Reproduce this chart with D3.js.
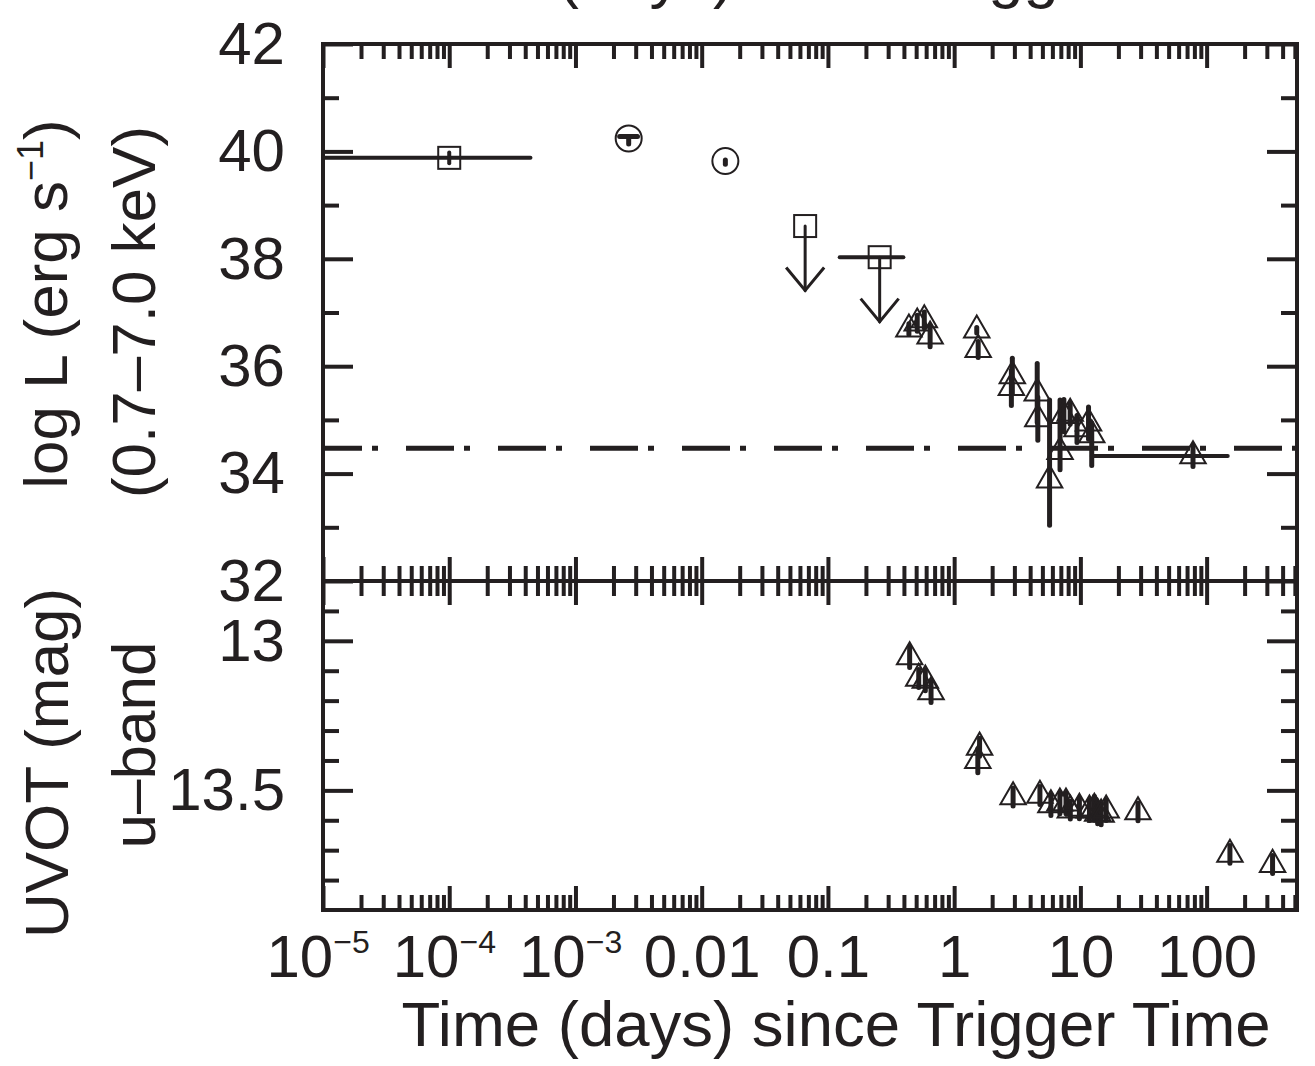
<!DOCTYPE html>
<html>
<head>
<meta charset="utf-8">
<script src="https://cdn.jsdelivr.net/npm/d3@7"></script>
<style>
body { margin: 0; background: #fff; }
text { font-family: "Liberation Sans", Arial, Helvetica, sans-serif; fill: #231f20; }
</style>
</head>
<body>
<script>
const width = 1315, height = 1066;
const plotL = 323, plotR = 1297, plotT = 44, plotM = 581, plotB = 910;
const ink = "#231f20";

// X-ray: binned square detection
const sqTime = [1.0e-4];
const sqLum = [39.88];
const sqLumErr = [0.1];
const sqTimeLo = [1e-5];
const sqTimeHi = [4.4e-4];

// X-ray: circles
const circTime = [0.00264, 0.0154];
const circLum = [40.24, 39.82];
const circLumErr = [0.1, 0.06];
const circTimeLo = [0.00224, 0.0154];
const circTimeHi = [0.0031, 0.0154];

// X-ray: square upper limits
const ulTime = [0.066, 0.257];
const ulLum = [38.61, 38.03];
const ulTimeLo = [0.066, 0.124];
const ulTimeHi = [0.066, 0.396];
const ulDrop = 1.2;

// X-ray: triangles
const triTime = [0.438, 0.51, 0.58, 0.645, 1.51, 1.55, 2.89, 2.84, 4.55, 4.6, 5.7, 6.9, 7.4, 8.3, 9.4, 11.6, 12.3];
const triLum = [36.69, 36.80, 36.86, 36.56, 36.67, 36.31, 35.82, 35.60, 35.50, 35.02, 33.88, 34.41, 35.08, 35.12, 34.83, 34.94, 34.72];
const triLumLo = [36.59, 36.65, 36.71, 36.36, 36.62, 36.16, 35.49, 35.27, 34.95, 34.62, 33.04, 34.07, 34.78, 34.92, 34.58, 34.64, 34.15];
const triLumHi = [36.79, 36.95, 37.01, 36.76, 36.72, 36.46, 36.15, 35.93, 36.05, 35.42, 35.37, 35.37, 35.38, 35.32, 35.08, 35.24, 34.94];

// X-ray: late binned triangle
const binTime = [78];
const binLum = [34.33];
const binLumErr = [0.2];
const binTimeLo = [12.3];
const binTimeHi = [147];

// quiescent level (dash-dot)
const quiescentLum = 34.47;

// UVOT u-band
const uvTime = [0.444, 0.524, 0.591, 0.656, 1.59, 1.54, 2.93, 4.78, 5.84, 6.88, 7.69, 8.32, 9.82, 11.8, 12.9, 13.7, 14.6, 16.0, 28.6, 153, 333];
const uvMag = [13.054, 13.126, 13.132, 13.171, 13.356, 13.401, 13.522, 13.517, 13.549, 13.543, 13.543, 13.566, 13.56, 13.566, 13.56, 13.577, 13.58, 13.566, 13.572, 13.714, 13.748];
const uvErr = [0.035, 0.03, 0.035, 0.035, 0.03, 0.04, 0.03, 0.03, 0.035, 0.035, 0.035, 0.03, 0.035, 0.035, 0.04, 0.035, 0.035, 0.035, 0.03, 0.03, 0.03];

// ticks
const xMajor = [1e-5, 1e-4, 1e-3, 0.01, 0.1, 1, 10, 100];
const xLabels = ["10|5", "10|4", "10|3", "0.01", "0.1", "1", "10", "100"];
const lumTicks = [32, 34, 36, 38, 40, 42];
const lumMinor = [33, 35, 37, 39, 41];
const magTicks = [13, 13.5];
const magMinor = [12.9, 13.1, 13.2, 13.3, 13.4, 13.6, 13.7, 13.8];

const xMinor = [];
xMajor.forEach(d => { for (let k = 2; k <= 9; k++) if (d * k <= 520) xMinor.push(d * k); });

const svg = d3.select("body").append("svg")
  .attr("width", width)
  .attr("height", height);

const x = d3.scaleLog().domain([1e-5, 520]).range([plotL, plotR]);
const yL = d3.scaleLinear().domain([32, 42]).range([plotM, plotT]);
const yM = d3.scaleLinear().domain([12.8, 13.9]).range([plotM, plotB]);

function styleAxis(g) {
  g.select(".domain").remove();
  g.selectAll(".tick line").attr("stroke", ink).attr("stroke-width", 4);
  g.selectAll("text").attr("font-size", 60).attr("fill", ink)
    .attr("font-family", "'Liberation Sans', Arial, sans-serif");
}

// x ticks on all horizontal lines
function xTicks(axisFn, y, size, values) {
  svg.append("g")
    .attr("transform", "translate(0," + y + ")")
    .call(axisFn(x).tickValues(values).tickSize(size).tickFormat(""))
    .call(styleAxis);
}
xTicks(d3.axisTop, plotT, -24, xMajor);
xTicks(d3.axisTop, plotT, -15, xMinor);
xTicks(d3.axisBottom, plotM, -24, xMajor);
xTicks(d3.axisBottom, plotM, -15, xMinor);
xTicks(d3.axisTop, plotM, -24, xMajor);
xTicks(d3.axisTop, plotM, -15, xMinor);

const xAxis = svg.append("g")
  .attr("transform", "translate(0," + plotB + ")")
  .call(d3.axisBottom(x).tickValues(xMajor).tickSize(-24).tickPadding(24)
    .tickFormat((d, i) => xLabels[i]))
  .call(styleAxis);
xTicks(d3.axisBottom, plotB, -15, xMinor);

xAxis.selectAll(".tick text").each(function(d, i) {
  const lab = xLabels[i];
  if (lab.indexOf("|") < 0) return;
  const t = d3.select(this);
  t.text(null).attr("text-anchor", "start").attr("x", -57);
  t.append("tspan").text("10");
  t.append("tspan").attr("font-size", 32).attr("dy", "-0.75em").text("\u2212" + lab.split("|")[1]);
});

// y ticks
function yAxis(axisFn, scale, xPos, major, minor, fmt) {
  svg.append("g")
    .attr("transform", "translate(" + xPos + ",0)")
    .call(axisFn(scale).tickValues(major).tickSize(-30).tickPadding(38).tickFormat(fmt))
    .call(styleAxis);
  svg.append("g")
    .attr("transform", "translate(" + xPos + ",0)")
    .call(axisFn(scale).tickValues(minor).tickSize(-16).tickFormat(""))
    .call(styleAxis);
}
yAxis(d3.axisLeft, yL, plotL, lumTicks, lumMinor, d3.format("d"));
yAxis(d3.axisRight, yL, plotR, lumTicks, lumMinor, () => "");
yAxis(d3.axisLeft, yM, plotL, magTicks, magMinor, d => d === 13 ? "13" : "13.5");
yAxis(d3.axisRight, yM, plotR, magTicks, magMinor, () => "");

// frame
svg.append("rect")
  .attr("x", plotL).attr("y", plotT)
  .attr("width", plotR - plotL).attr("height", plotB - plotT)
  .attr("fill", "none").attr("stroke", ink).attr("stroke-width", 4);
svg.append("line")
  .attr("x1", plotL).attr("x2", plotR)
  .attr("y1", plotM).attr("y2", plotM)
  .attr("stroke", ink).attr("stroke-width", 4);

// quiescent dash-dot line
svg.append("line")
  .attr("x1", x(1e-5)).attr("x2", x(520))
  .attr("y1", yL(quiescentLum)).attr("y2", yL(quiescentLum))
  .attr("stroke", ink).attr("stroke-width", 5)
  .attr("stroke-dasharray", "48,10,6,28")
  .attr("stroke-dashoffset", 9);

const marks = svg.append("g");

function bar(x1, y1, x2, y2, w) {
  marks.append("line")
    .attr("x1", x1).attr("y1", y1).attr("x2", x2).attr("y2", y2)
    .attr("stroke", ink).attr("stroke-width", w || 4)
    .attr("stroke-linecap", "round");
}

// squares
sqTime.forEach((t, i) => {
  bar(x(sqTimeLo[i]), yL(sqLum[i]), x(sqTimeHi[i]), yL(sqLum[i]));
  bar(x(t), yL(sqLum[i] - sqLumErr[i]), x(t), yL(sqLum[i] + sqLumErr[i]));
  marks.append("rect")
    .attr("x", x(t) - 11).attr("y", yL(sqLum[i]) - 11)
    .attr("width", 22).attr("height", 22)
    .attr("fill", "none").attr("stroke", ink).attr("stroke-width", 2);
});

// circles
circTime.forEach((t, i) => {
  if (circTimeHi[i] > circTimeLo[i])
    bar(x(circTimeLo[i]), yL(circLum[i]) - 2, x(circTimeHi[i]), yL(circLum[i]) - 2, 5);
  bar(x(t), yL(circLum[i] - circLumErr[i]), x(t), yL(circLum[i] + circLumErr[i] * 0.3), 5);
  marks.append("circle")
    .attr("cx", x(t)).attr("cy", yL(circLum[i])).attr("r", 13)
    .attr("fill", "none").attr("stroke", ink).attr("stroke-width", 2);
});

// upper limits
ulTime.forEach((t, i) => {
  const cx = x(t), cy = yL(ulLum[i]), ey = yL(ulLum[i] - ulDrop);
  if (ulTimeHi[i] > ulTimeLo[i]) bar(x(ulTimeLo[i]), cy, x(ulTimeHi[i]), cy);
  bar(cx, cy, cx, ey, 3);
  marks.append("path")
    .attr("d", "M" + (cx - 19) + "," + (ey - 23) + "L" + cx + "," + ey + "L" + (cx + 19) + "," + (ey - 23))
    .attr("fill", "none").attr("stroke", ink).attr("stroke-width", 3)
    .attr("stroke-linejoin", "miter");
  marks.append("rect")
    .attr("x", cx - 11).attr("y", cy - 11)
    .attr("width", 22).attr("height", 22)
    .attr("fill", "none").attr("stroke", ink).attr("stroke-width", 2);
});

const tri = d3.symbol(d3.symbolTriangle, 280);

function triangle(cx, cy) {
  marks.append("path")
    .attr("d", tri())
    .attr("transform", "translate(" + cx + "," + cy + ")")
    .attr("fill", "none").attr("stroke", ink).attr("stroke-width", 2);
}

// x-ray triangles
triTime.forEach((t, i) => {
  bar(x(t), yL(triLumLo[i]), x(t), yL(triLumHi[i]), 5);
});
binTime.forEach((t, i) => {
  bar(x(binTimeLo[i]), yL(binLum[i]), x(binTimeHi[i]), yL(binLum[i]));
  bar(x(t), yL(binLum[i] - binLumErr[i]), x(t), yL(binLum[i] + binLumErr[i]), 5);
});
triTime.forEach((t, i) => triangle(x(t), yL(triLum[i])));
binTime.forEach((t, i) => triangle(x(t), yL(binLum[i])));

// UVOT triangles
uvTime.forEach((t, i) => {
  bar(x(t), yM(uvMag[i] - uvErr[i]), x(t), yM(uvMag[i] + uvErr[i]), 5);
});
uvTime.forEach((t, i) => triangle(x(t), yM(uvMag[i])));

// axis titles
const title = 62;
svg.append("text")
  .attr("x", 836).attr("y", 1046)
  .attr("text-anchor", "middle").attr("font-size", 63.5)
  .text("Time (days) since Trigger Time");
// the previous panel's axis title, cut off at the top edge
svg.append("text")
  .attr("x", 836).attr("y", -4)
  .attr("text-anchor", "middle").attr("font-size", 63.5)
  .text("Time (days) since Trigger Time");

function yTitle(xPos, yPos, parts) {
  const t = svg.append("text")
    .attr("transform", "translate(" + xPos + "," + yPos + ") rotate(-90)")
    .attr("text-anchor", "middle").attr("font-size", title);
  parts.forEach(p => {
    const s = t.append("tspan").text(p[0]);
    if (p[1]) s.attr("font-size", p[1]);
    if (p[2]) s.attr("dy", p[2]);
  });
}
yTitle(67, 304, [["log L (erg s"], ["\u22121", 36, -24], [")", null, 24]]);
yTitle(155, 312, [["(0.7\u20137.0 keV)"]]);
yTitle(68, 763, [["UVOT (mag)"]]);
yTitle(155, 745, [["u\u2013band"]]);
</script>
</body>
</html>
